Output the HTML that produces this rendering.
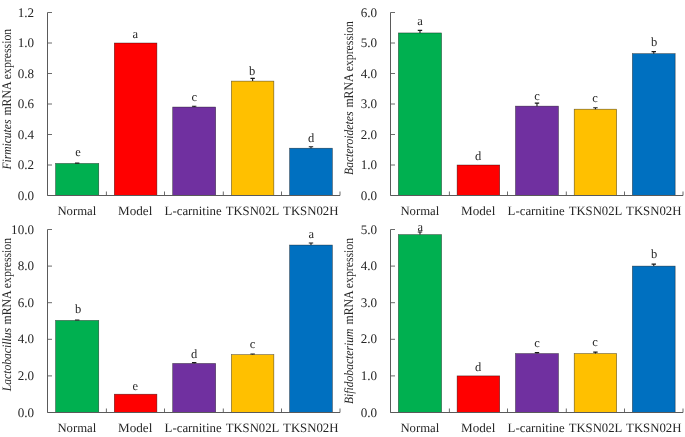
<!DOCTYPE html>
<html lang="en">
<head>
<meta charset="utf-8">
<title>mRNA expression charts</title>
<style>
html,body{margin:0;padding:0;background:#fff;}
body{width:685px;height:437px;overflow:hidden;font-family:"Liberation Serif", "Times New Roman", serif;}
svg{display:block;will-change:transform;}
</style>
</head>
<body>
<svg width="685" height="437" viewBox="0 0 685 437" text-rendering="geometricPrecision" font-family='"Liberation Serif", "Times New Roman", serif' fill="#262626">
<rect width="685" height="437" fill="#fff"/>
<rect x="55.60" y="163.47" width="43.15" height="32.03" fill="#00b050" stroke="#000" stroke-opacity="0.6" stroke-width="0.6"/>
<path d="M77.17 163.47V163.17M74.97 163.17H79.38" stroke="#1a1a1a" stroke-width="1.1" fill="none"/>
<rect x="114.30" y="43.00" width="42.60" height="152.50" fill="#ff0000" stroke="#000" stroke-opacity="0.6" stroke-width="0.6"/>
<rect x="172.70" y="107.05" width="42.95" height="88.45" fill="#7030a0" stroke="#000" stroke-opacity="0.6" stroke-width="0.6"/>
<path d="M194.18 107.05V106.25M191.98 106.25H196.38" stroke="#1a1a1a" stroke-width="1.1" fill="none"/>
<rect x="231.40" y="81.12" width="42.45" height="114.38" fill="#ffc000" stroke="#000" stroke-opacity="0.6" stroke-width="0.6"/>
<path d="M252.62 81.12V78.33M250.43 78.33H254.82" stroke="#1a1a1a" stroke-width="1.1" fill="none"/>
<rect x="289.60" y="148.22" width="42.75" height="47.28" fill="#0070c0" stroke="#000" stroke-opacity="0.6" stroke-width="0.6"/>
<path d="M310.98 148.22V146.72M308.78 146.72H313.18" stroke="#1a1a1a" stroke-width="1.1" fill="none"/>
<path d="M47.50 12.50V195.50H340.00" stroke="#5a5a5a" stroke-width="1" fill="none"/>
<path d="M47.50 195.50h4.5M47.50 165.00h4.5M47.50 134.50h4.5M47.50 104.00h4.5M47.50 73.50h4.5M47.50 43.00h4.5M47.50 12.50h4.5M106.40 195.50v-4M164.50 195.50v-4M223.30 195.50v-4M281.50 195.50v-4M340.00 195.50v-4" stroke="#5a5a5a" stroke-width="0.9" fill="none"/>
<text x="34.0" y="199.50" font-size="13.1" text-anchor="end">0.0</text>
<text x="34.0" y="169.00" font-size="13.1" text-anchor="end">0.2</text>
<text x="34.0" y="138.50" font-size="13.1" text-anchor="end">0.4</text>
<text x="34.0" y="108.00" font-size="13.1" text-anchor="end">0.6</text>
<text x="34.0" y="77.50" font-size="13.1" text-anchor="end">0.8</text>
<text x="34.0" y="47.00" font-size="13.1" text-anchor="end">1.0</text>
<text x="34.0" y="16.50" font-size="13.1" text-anchor="end">1.2</text>
<text x="76.85" y="214.7" font-size="12.8" text-anchor="middle" textLength="38.9" lengthAdjust="spacingAndGlyphs">Normal</text>
<text x="135.15" y="214.7" font-size="12.8" text-anchor="middle" textLength="34.3" lengthAdjust="spacingAndGlyphs">Model</text>
<text x="193.10" y="214.7" font-size="12.8" text-anchor="middle" textLength="57.0" lengthAdjust="spacingAndGlyphs">L-carnitine</text>
<text x="252.50" y="214.7" font-size="12.8" text-anchor="middle" textLength="53.6" lengthAdjust="spacingAndGlyphs">TKSN02L</text>
<text x="310.80" y="214.7" font-size="12.8" text-anchor="middle" textLength="55.45" lengthAdjust="spacingAndGlyphs">TKSN02H</text>
<text x="78" y="156.1" font-size="12.5" text-anchor="middle">e</text>
<text x="135.3" y="37.8" font-size="12.5" text-anchor="middle">a</text>
<text x="194.2" y="100.8" font-size="12.5" text-anchor="middle">c</text>
<text x="252.1" y="75" font-size="12.5" text-anchor="middle">b</text>
<text x="311" y="141.5" font-size="12.5" text-anchor="middle">d</text>
<text transform="translate(10.5 169.5) rotate(-90)" font-size="12.8" font-style="italic" textLength="49.9" lengthAdjust="spacingAndGlyphs">Firmicutes</text>
<text transform="translate(10.5 115.6) rotate(-90)" font-size="13.2" textLength="86.8" lengthAdjust="spacingAndGlyphs">mRNA expression</text>
<rect x="398.40" y="32.94" width="43.15" height="162.56" fill="#00b050" stroke="#000" stroke-opacity="0.6" stroke-width="0.6"/>
<path d="M419.98 32.94V30.34M417.78 30.34H422.18" stroke="#1a1a1a" stroke-width="1.1" fill="none"/>
<rect x="457.10" y="165.00" width="42.60" height="30.50" fill="#ff0000" stroke="#000" stroke-opacity="0.6" stroke-width="0.6"/>
<rect x="515.50" y="106.13" width="42.95" height="89.37" fill="#7030a0" stroke="#000" stroke-opacity="0.6" stroke-width="0.6"/>
<path d="M536.98 106.13V103.13M534.77 103.13H539.18" stroke="#1a1a1a" stroke-width="1.1" fill="none"/>
<rect x="574.20" y="109.19" width="42.45" height="86.31" fill="#ffc000" stroke="#000" stroke-opacity="0.6" stroke-width="0.6"/>
<path d="M595.43 109.19V107.69M593.23 107.69H597.63" stroke="#1a1a1a" stroke-width="1.1" fill="none"/>
<rect x="632.40" y="53.67" width="42.75" height="141.83" fill="#0070c0" stroke="#000" stroke-opacity="0.6" stroke-width="0.6"/>
<path d="M653.78 53.67V51.67M651.58 51.67H655.98" stroke="#1a1a1a" stroke-width="1.1" fill="none"/>
<path d="M390.50 12.50V195.50H683.00" stroke="#5a5a5a" stroke-width="1" fill="none"/>
<path d="M390.50 195.50h4.5M390.50 165.00h4.5M390.50 134.50h4.5M390.50 104.00h4.5M390.50 73.50h4.5M390.50 43.00h4.5M390.50 12.50h4.5M449.40 195.50v-4M507.50 195.50v-4M566.30 195.50v-4M624.50 195.50v-4M683.00 195.50v-4" stroke="#5a5a5a" stroke-width="0.9" fill="none"/>
<text x="377.1" y="199.50" font-size="13.1" text-anchor="end">0.0</text>
<text x="377.1" y="169.00" font-size="13.1" text-anchor="end">1.0</text>
<text x="377.1" y="138.50" font-size="13.1" text-anchor="end">2.0</text>
<text x="377.1" y="108.00" font-size="13.1" text-anchor="end">3.0</text>
<text x="377.1" y="77.50" font-size="13.1" text-anchor="end">4.0</text>
<text x="377.1" y="47.00" font-size="13.1" text-anchor="end">5.0</text>
<text x="377.1" y="16.50" font-size="13.1" text-anchor="end">6.0</text>
<text x="419.85" y="214.7" font-size="12.8" text-anchor="middle" textLength="38.9" lengthAdjust="spacingAndGlyphs">Normal</text>
<text x="478.15" y="214.7" font-size="12.8" text-anchor="middle" textLength="34.3" lengthAdjust="spacingAndGlyphs">Model</text>
<text x="536.10" y="214.7" font-size="12.8" text-anchor="middle" textLength="57.0" lengthAdjust="spacingAndGlyphs">L-carnitine</text>
<text x="595.50" y="214.7" font-size="12.8" text-anchor="middle" textLength="53.6" lengthAdjust="spacingAndGlyphs">TKSN02L</text>
<text x="653.80" y="214.7" font-size="12.8" text-anchor="middle" textLength="55.45" lengthAdjust="spacingAndGlyphs">TKSN02H</text>
<text x="420" y="25.3" font-size="12.5" text-anchor="middle">a</text>
<text x="478.2" y="160.3" font-size="12.5" text-anchor="middle">d</text>
<text x="537" y="100.2" font-size="12.5" text-anchor="middle">c</text>
<text x="595" y="101.8" font-size="12.5" text-anchor="middle">c</text>
<text x="654" y="46" font-size="12.5" text-anchor="middle">b</text>
<text transform="translate(353.4 174.9) rotate(-90)" font-size="12.8" font-style="italic" textLength="63.3" lengthAdjust="spacingAndGlyphs">Bacteroidetes</text>
<text transform="translate(353.4 107.6) rotate(-90)" font-size="13.2" textLength="86.6" lengthAdjust="spacingAndGlyphs">mRNA expression</text>
<rect x="55.60" y="320.45" width="43.15" height="92.05" fill="#00b050" stroke="#000" stroke-opacity="0.6" stroke-width="0.6"/>
<path d="M77.17 320.45V319.95M74.97 319.95H79.38" stroke="#1a1a1a" stroke-width="1.1" fill="none"/>
<rect x="114.30" y="394.20" width="42.60" height="18.30" fill="#ff0000" stroke="#000" stroke-opacity="0.6" stroke-width="0.6"/>
<rect x="172.70" y="363.46" width="42.95" height="49.04" fill="#7030a0" stroke="#000" stroke-opacity="0.6" stroke-width="0.6"/>
<path d="M194.18 363.46V362.66M191.98 362.66H196.38" stroke="#1a1a1a" stroke-width="1.1" fill="none"/>
<rect x="231.40" y="354.67" width="42.45" height="57.83" fill="#ffc000" stroke="#000" stroke-opacity="0.6" stroke-width="0.6"/>
<path d="M252.62 354.67V353.97M250.43 353.97H254.82" stroke="#1a1a1a" stroke-width="1.1" fill="none"/>
<rect x="289.60" y="245.05" width="42.75" height="167.45" fill="#0070c0" stroke="#000" stroke-opacity="0.6" stroke-width="0.6"/>
<path d="M310.98 245.05V243.05M308.78 243.05H313.18" stroke="#1a1a1a" stroke-width="1.1" fill="none"/>
<path d="M47.50 229.50V412.50H340.00" stroke="#5a5a5a" stroke-width="1" fill="none"/>
<path d="M47.50 412.50h4.5M47.50 375.90h4.5M47.50 339.30h4.5M47.50 302.70h4.5M47.50 266.10h4.5M47.50 229.50h4.5M106.40 412.50v-4M164.50 412.50v-4M223.30 412.50v-4M281.50 412.50v-4M340.00 412.50v-4" stroke="#5a5a5a" stroke-width="0.9" fill="none"/>
<text x="34.0" y="416.50" font-size="13.1" text-anchor="end">0.0</text>
<text x="34.0" y="379.90" font-size="13.1" text-anchor="end">2.0</text>
<text x="34.0" y="343.30" font-size="13.1" text-anchor="end">4.0</text>
<text x="34.0" y="306.70" font-size="13.1" text-anchor="end">6.0</text>
<text x="34.0" y="270.10" font-size="13.1" text-anchor="end">8.0</text>
<text x="34.0" y="233.50" font-size="13.1" text-anchor="end">10.0</text>
<text x="76.85" y="431.7" font-size="12.8" text-anchor="middle" textLength="38.9" lengthAdjust="spacingAndGlyphs">Normal</text>
<text x="135.15" y="431.7" font-size="12.8" text-anchor="middle" textLength="34.3" lengthAdjust="spacingAndGlyphs">Model</text>
<text x="193.10" y="431.7" font-size="12.8" text-anchor="middle" textLength="57.0" lengthAdjust="spacingAndGlyphs">L-carnitine</text>
<text x="252.50" y="431.7" font-size="12.8" text-anchor="middle" textLength="53.6" lengthAdjust="spacingAndGlyphs">TKSN02L</text>
<text x="310.80" y="431.7" font-size="12.8" text-anchor="middle" textLength="55.45" lengthAdjust="spacingAndGlyphs">TKSN02H</text>
<text x="78" y="312.6" font-size="12.5" text-anchor="middle">b</text>
<text x="135.3" y="389.5" font-size="12.5" text-anchor="middle">e</text>
<text x="194.2" y="357.6" font-size="12.5" text-anchor="middle">d</text>
<text x="252.5" y="347.5" font-size="12.5" text-anchor="middle">c</text>
<text x="311.2" y="237.5" font-size="12.5" text-anchor="middle">a</text>
<text transform="translate(10.5 391.2) rotate(-90)" font-size="12.8" font-style="italic" textLength="63.2" lengthAdjust="spacingAndGlyphs">Lactobacillus</text>
<text transform="translate(10.5 324.4) rotate(-90)" font-size="13.2" textLength="86.5" lengthAdjust="spacingAndGlyphs">mRNA expression</text>
<rect x="398.40" y="234.62" width="43.15" height="177.88" fill="#00b050" stroke="#000" stroke-opacity="0.6" stroke-width="0.6"/>
<path d="M419.98 234.62V232.02M417.78 232.02H422.18" stroke="#1a1a1a" stroke-width="1.1" fill="none"/>
<rect x="457.10" y="375.90" width="42.60" height="36.60" fill="#ff0000" stroke="#000" stroke-opacity="0.6" stroke-width="0.6"/>
<rect x="515.50" y="353.57" width="42.95" height="58.93" fill="#7030a0" stroke="#000" stroke-opacity="0.6" stroke-width="0.6"/>
<path d="M536.98 353.57V352.67M534.77 352.67H539.18" stroke="#1a1a1a" stroke-width="1.1" fill="none"/>
<rect x="574.20" y="353.57" width="42.45" height="58.93" fill="#ffc000" stroke="#000" stroke-opacity="0.6" stroke-width="0.6"/>
<path d="M595.43 353.57V352.17M593.23 352.17H597.63" stroke="#1a1a1a" stroke-width="1.1" fill="none"/>
<rect x="632.40" y="266.10" width="42.75" height="146.40" fill="#0070c0" stroke="#000" stroke-opacity="0.6" stroke-width="0.6"/>
<path d="M653.78 266.10V264.10M651.58 264.10H655.98" stroke="#1a1a1a" stroke-width="1.1" fill="none"/>
<path d="M390.50 229.50V412.50H683.00" stroke="#5a5a5a" stroke-width="1" fill="none"/>
<path d="M390.50 412.50h4.5M390.50 375.90h4.5M390.50 339.30h4.5M390.50 302.70h4.5M390.50 266.10h4.5M390.50 229.50h4.5M449.40 412.50v-4M507.50 412.50v-4M566.30 412.50v-4M624.50 412.50v-4M683.00 412.50v-4" stroke="#5a5a5a" stroke-width="0.9" fill="none"/>
<text x="377.1" y="416.50" font-size="13.1" text-anchor="end">0.0</text>
<text x="377.1" y="379.90" font-size="13.1" text-anchor="end">1.0</text>
<text x="377.1" y="343.30" font-size="13.1" text-anchor="end">2.0</text>
<text x="377.1" y="306.70" font-size="13.1" text-anchor="end">3.0</text>
<text x="377.1" y="270.10" font-size="13.1" text-anchor="end">4.0</text>
<text x="377.1" y="233.50" font-size="13.1" text-anchor="end">5.0</text>
<text x="419.85" y="431.7" font-size="12.8" text-anchor="middle" textLength="38.9" lengthAdjust="spacingAndGlyphs">Normal</text>
<text x="478.15" y="431.7" font-size="12.8" text-anchor="middle" textLength="34.3" lengthAdjust="spacingAndGlyphs">Model</text>
<text x="536.10" y="431.7" font-size="12.8" text-anchor="middle" textLength="57.0" lengthAdjust="spacingAndGlyphs">L-carnitine</text>
<text x="595.50" y="431.7" font-size="12.8" text-anchor="middle" textLength="53.6" lengthAdjust="spacingAndGlyphs">TKSN02L</text>
<text x="653.80" y="431.7" font-size="12.8" text-anchor="middle" textLength="55.45" lengthAdjust="spacingAndGlyphs">TKSN02H</text>
<text x="420.2" y="231.3" font-size="12.5" text-anchor="middle">a</text>
<text x="478.2" y="371.4" font-size="12.5" text-anchor="middle">d</text>
<text x="537" y="346.7" font-size="12.5" text-anchor="middle">c</text>
<text x="595" y="346.2" font-size="12.5" text-anchor="middle">c</text>
<text x="654" y="258" font-size="12.5" text-anchor="middle">b</text>
<text transform="translate(353.4 404.0) rotate(-90)" font-size="12.8" font-style="italic" textLength="75.4" lengthAdjust="spacingAndGlyphs">Bifidobacterium</text>
<text transform="translate(353.4 324.4) rotate(-90)" font-size="13.2" textLength="86.5" lengthAdjust="spacingAndGlyphs">mRNA expression</text>
</svg>
</body>
</html>
